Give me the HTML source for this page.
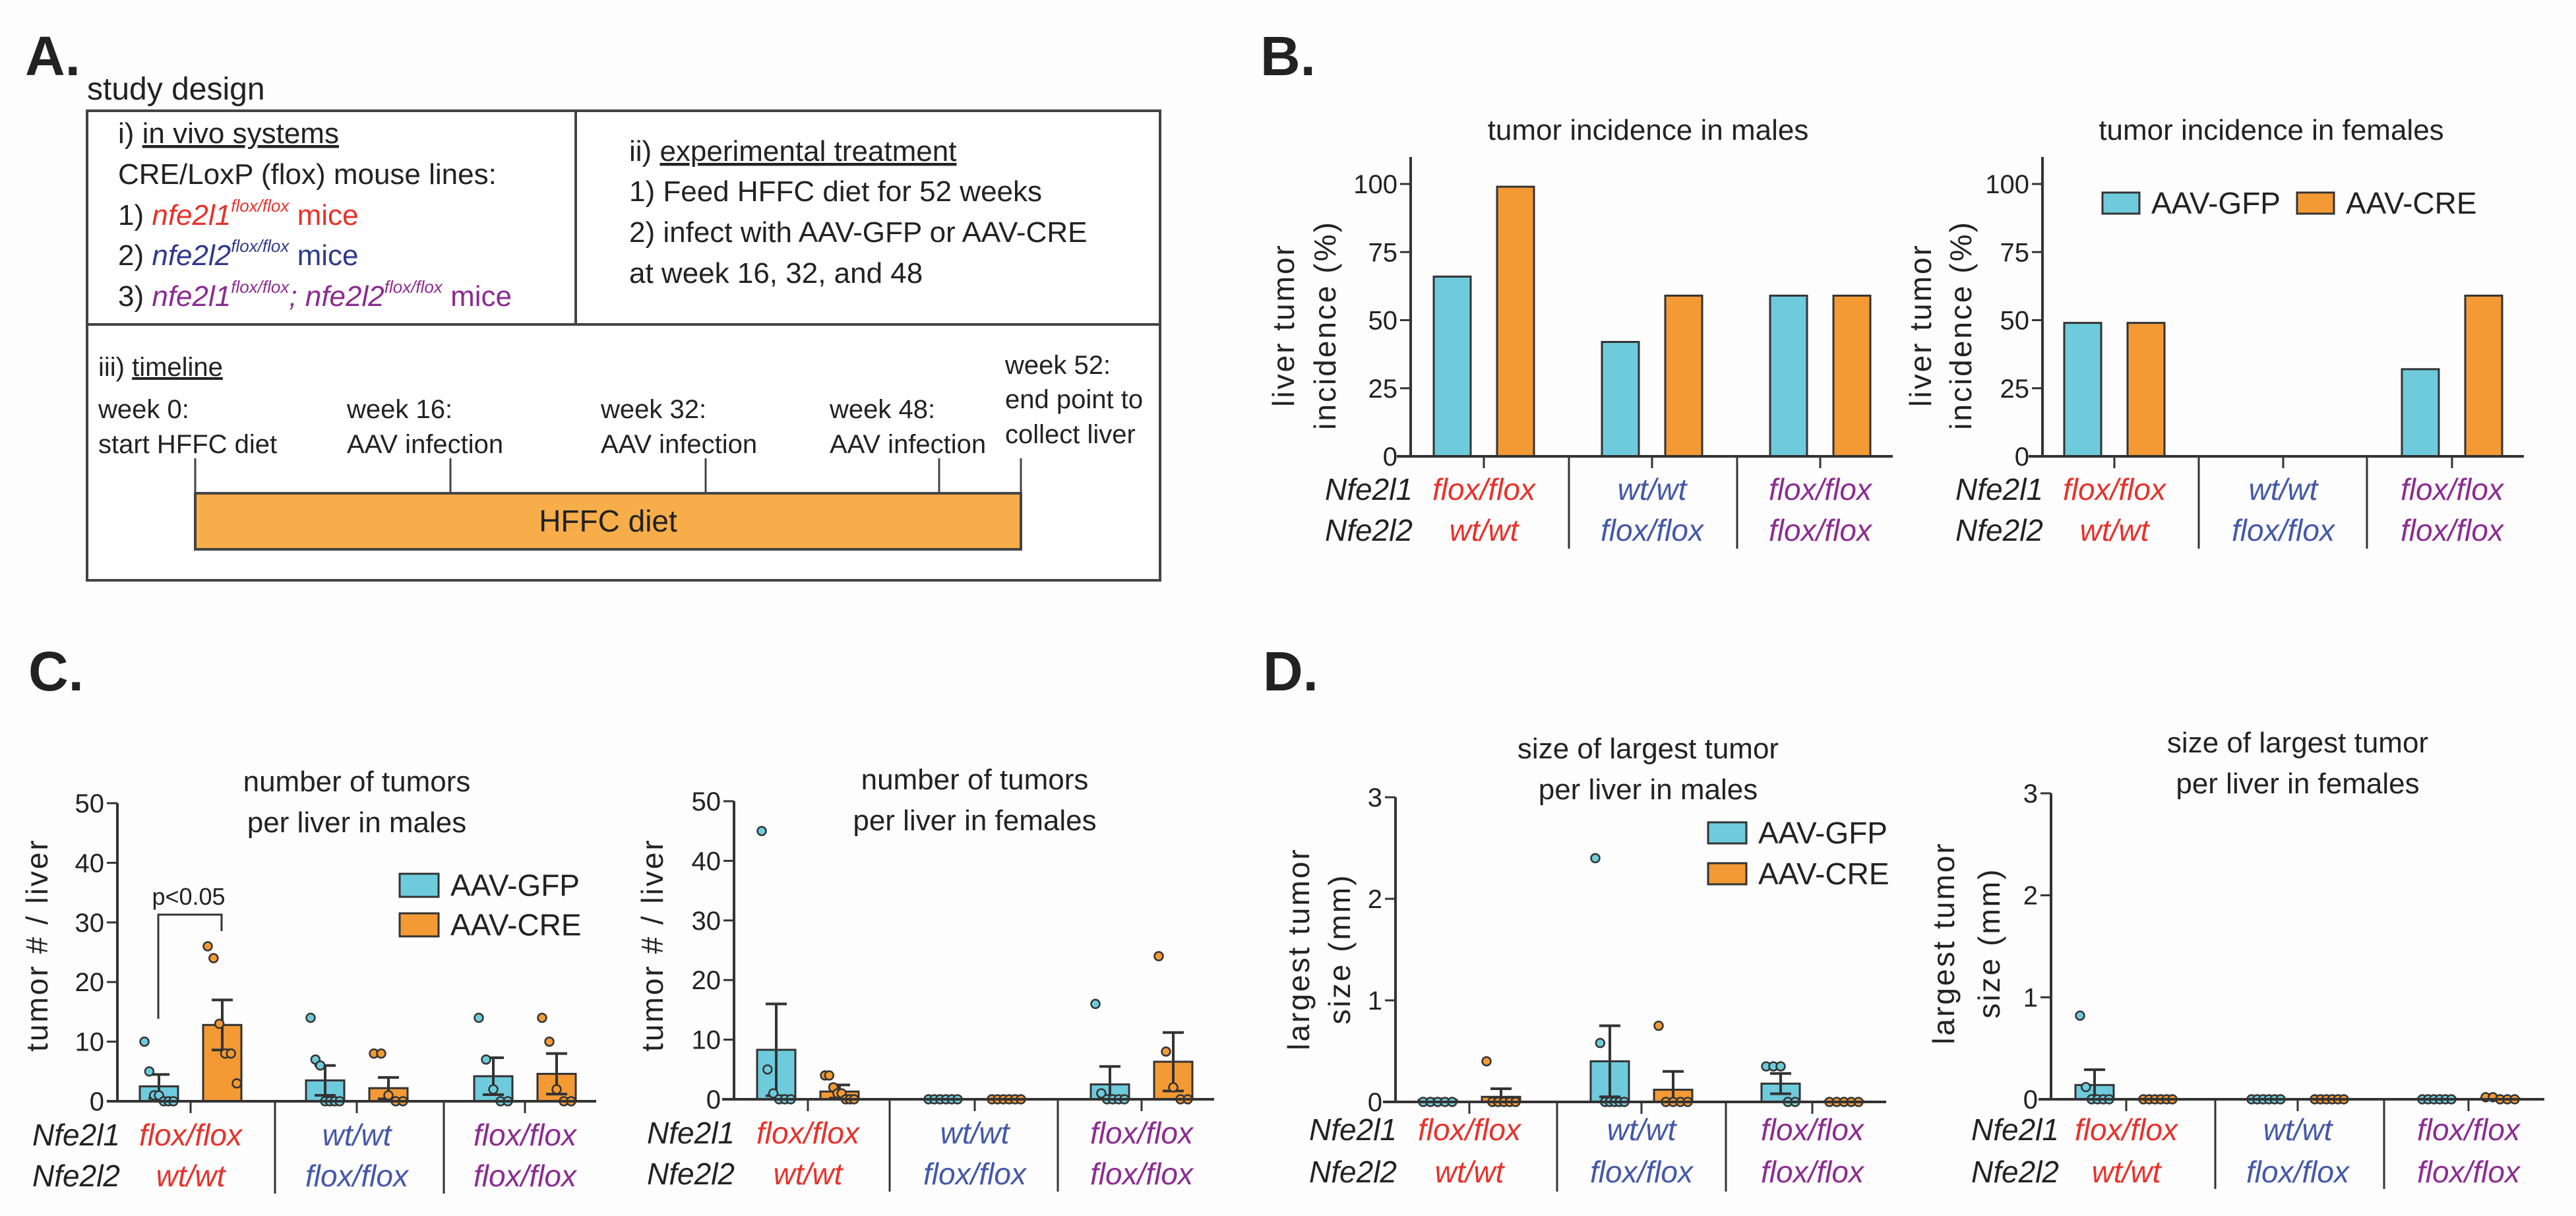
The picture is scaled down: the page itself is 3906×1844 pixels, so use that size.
<!DOCTYPE html>
<html><head><meta charset="utf-8">
<style>
html,body{margin:0;padding:0;background:#fff;}
svg{display:block;}
text{font-family:"Liberation Sans",Arial,sans-serif;fill:#222;}
</style></head>
<body>
<svg id="fig" width="3906" height="1844" viewBox="0 0 3906 1844" xmlns="http://www.w3.org/2000/svg">
<rect x="0" y="0" width="3906" height="1844" fill="#fdfdfd"/>

<!-- Panel A -->
<g>
<text x="38" y="114" font-size="84" font-weight="bold">A.</text>
<text x="132" y="151" font-size="48">study design</text>
<rect x="132" y="168" width="1627" height="712" fill="#fff" stroke="#444" stroke-width="4"/>
<line x1="132" y1="492" x2="1759" y2="492" stroke="#444" stroke-width="4"/>
<line x1="873" y1="168" x2="873" y2="492" stroke="#444" stroke-width="4"/>
<g font-size="44">
<text x="179" y="217">i) <tspan text-decoration="underline">in vivo systems</tspan></text>
<text x="179" y="279">CRE/LoxP (flox) mouse lines:</text>
<text x="179" y="341">1) <tspan fill="#e8312a" font-style="italic">nfe2l1</tspan><tspan fill="#e8312a" font-style="italic" font-size="26" dy="-20">flox/flox</tspan><tspan fill="#e8312a" dy="20"> mice</tspan></text>
<text x="179" y="402">2) <tspan fill="#2e3a8c" font-style="italic">nfe2l2</tspan><tspan fill="#2e3a8c" font-style="italic" font-size="26" dy="-20">flox/flox</tspan><tspan fill="#2e3a8c" dy="20"> mice</tspan></text>
<text x="179" y="464">3) <tspan fill="#8b2c91" font-style="italic">nfe2l1</tspan><tspan fill="#8b2c91" font-style="italic" font-size="26" dy="-20">flox/flox</tspan><tspan fill="#8b2c91" font-style="italic" dy="20">; nfe2l2</tspan><tspan fill="#8b2c91" font-style="italic" font-size="26" dy="-20">flox/flox</tspan><tspan fill="#8b2c91" dy="20"> mice</tspan></text>
<text x="954" y="244">ii) <tspan text-decoration="underline">experimental treatment</tspan></text>
<text x="954" y="305">1) Feed HFFC diet for 52 weeks</text>
<text x="954" y="367">2) infect with AAV-GFP or AAV-CRE</text>
<text x="954" y="429">at week 16, 32, and 48</text>
</g>
<g font-size="40">
<text x="149" y="570">iii) <tspan text-decoration="underline">timeline</tspan></text>
<text x="149" y="634">week 0:</text>
<text x="149" y="687">start HFFC diet</text>
<text x="526" y="634">week 16:</text>
<text x="526" y="687">AAV infection</text>
<text x="911" y="634">week 32:</text>
<text x="911" y="687">AAV infection</text>
<text x="1258" y="634">week 48:</text>
<text x="1258" y="687">AAV infection</text>
<text x="1524" y="567">week 52:</text>
<text x="1524" y="619">end point to</text>
<text x="1524" y="672">collect liver</text>
</g>
<rect x="296" y="748" width="1252" height="85" fill="#f7ae4a" stroke="#444" stroke-width="4"/>
<text x="922" y="806" font-size="46" text-anchor="middle">HFFC diet</text>
<g stroke="#444" stroke-width="3">
<line x1="296" y1="748" x2="296" y2="695"/>
<line x1="683" y1="748" x2="683" y2="695"/>
<line x1="1070" y1="748" x2="1070" y2="695"/>
<line x1="1424" y1="748" x2="1424" y2="695"/>
<line x1="1548" y1="748" x2="1548" y2="695"/>
</g>
</g>

<text x="1911" y="114" font-size="84" font-weight="bold">B.</text>
<text x="43" y="1047" font-size="84" font-weight="bold">C.</text>
<text x="1915" y="1047" font-size="84" font-weight="bold">D.</text>

<g id="charts"></g>
</svg>

<script>
// ---------- data ----------
const genotypeNfe2l1 = ['flox/flox', 'wt/wt', 'flox/flox'];
const genotypeNfe2l2 = ['wt/wt', 'flox/flox', 'flox/flox'];
const seriesNames = ['AAV-GFP', 'AAV-CRE'];

const bTicks = [0, 25, 50, 75, 100];
const bMaleGFP = [66, 42, 59];
const bMaleCRE = [99, 59, 59];
const bFemaleGFP = [49, 0, 32];
const bFemaleCRE = [49, 0, 59];

const cTicks = [0, 10, 20, 30, 40, 50];
const cMaleGFPMean = [2.5, 3.5, 4.2];
const cMaleGFPSem = [2.0, 2.5, 3.1];
const cMaleCREMean = [12.8, 2.2, 4.6];
const cMaleCRESem = [4.2, 1.8, 3.4];
const cMaleGFPPoints = [[10, 5, 1, 1, 0, 0, 0], [14, 7, 6, 0, 0, 0, 0], [14, 7, 2, 0, 0]];
const cMaleCREPoints = [[26, 24, 13, 8, 8, 3], [8, 8, 1, 0, 0], [14, 10, 2, 0, 0]];
const cFemaleGFPMean = [8.3, 0, 2.5];
const cFemaleGFPSem = [7.7, 0, 3.0];
const cFemaleCREMean = [1.3, 0, 6.3];
const cFemaleCRESem = [1.1, 0, 4.9];
const cFemaleGFPPoints = [[45, 5, 1, 0, 0, 0], [0, 0, 0, 0, 0, 0], [16, 1, 0, 0, 0, 0]];
const cFemaleCREPoints = [[4, 4, 2, 1, 1, 0, 0, 0], [0, 0, 0, 0, 0, 0], [24, 8, 2, 0, 0]];

const dTicks = [0, 1, 2, 3];
const dMaleGFPMean = [0.02, 0.40, 0.18];
const dMaleGFPSem = [0.01, 0.35, 0.10];
const dMaleCREMean = [0.05, 0.12, 0.01];
const dMaleCRESem = [0.08, 0.18, 0];
const dMaleGFPPoints = [[0, 0, 0, 0, 0], [2.4, 0.58, 0, 0, 0, 0, 0], [0.35, 0.35, 0.35, 0, 0]];
const dMaleCREPoints = [[0.4, 0, 0, 0, 0, 0], [0.75, 0, 0, 0, 0], [0, 0, 0, 0, 0]];
const dFemaleGFPMean = [0.14, 0, 0.005];
const dFemaleGFPSem = [0.15, 0, 0];
const dFemaleCREMean = [0.005, 0, 0.01];
const dFemaleCRESem = [0, 0, 0];
const dFemaleGFPPoints = [[0.82, 0.12, 0, 0, 0, 0], [0, 0, 0, 0, 0, 0], [0, 0, 0, 0, 0, 0]];
const dFemaleCREPoints = [[0, 0, 0, 0, 0, 0], [0, 0, 0, 0, 0, 0], [0.02, 0.02, 0, 0, 0]];

// ---------- drawing ----------
const NS = 'http://www.w3.org/2000/svg';
const root = document.getElementById('charts');
const GFP = '#6ecbdc', CRE = '#f39a34', INK = '#333';
const geneColors = ['#e8312a', '#4458a8', '#8b2c91'];

function mk(tag, attrs, parent) {
  const el = document.createElementNS(NS, tag);
  for (const k in attrs) el.setAttribute(k, attrs[k]);
  parent.appendChild(el);
  return el;
}

function drawChart(cfg) {
  const g = mk('g', {}, root);
  
  
  const y = v => cfg.y0 - (v / cfg.vmax) * (cfg.y0 - cfg.yTop);
  // axes
  const ya = mk('line', {x1: cfg.ax, y1: cfg.y0, x2: cfg.ax, y2: cfg.axisTop, stroke: INK, 'stroke-width': 4}, g);
  
  
  cfg.ticks.forEach(t => {
    const tl = mk('line', {x1: cfg.ax - 16, y1: y(t), x2: cfg.ax, y2: y(t), stroke: INK, 'stroke-width': 3}, g);
    
    
    const tx = mk('text', {x: cfg.ax - 20, y: y(t) + 14, 'font-size': 40, 'text-anchor': 'end'}, g);
    tx.textContent = t;
    
    
  });
  // title
  cfg.title.forEach((line, i) => {
    const tt = mk('text', {x: cfg.titleX, y: cfg.titleY + i * 62 + 15, 'font-size': 44, 'text-anchor': 'middle'}, g);
    tt.textContent = line;
    
    
  });
  // y title
  cfg.yTitle.forEach((line, i) => {
    const xx = cfg.yTitleX[i];
    const yt = mk('text', {x: xx, y: cfg.yTitleY, 'font-size': 46, 'text-anchor': 'middle', 'letter-spacing': 3,
      transform: 'rotate(-90 ' + xx + ' ' + cfg.yTitleY + ')', dy: 16}, g);
    yt.textContent = line;
    
    
  });
  // bars
  const series = [
    {vals: cfg.gfp, sem: cfg.gfpSem, pts: cfg.gfpPts, col: GFP, off: -48, nm: 'gfp'},
    {vals: cfg.cre, sem: cfg.creSem, pts: cfg.crePts, col: CRE, off: 48, nm: 'cre'}
  ];
  cfg.groups.forEach((gc, gi) => {
    series.forEach(s => {
      const cx = gc + s.off, v = s.vals[gi];
      if (v > 0) {
        const b = mk('rect', {x: cx - cfg.bw / 2, y: y(v), width: cfg.bw, height: cfg.y0 - y(v), fill: s.col, stroke: INK, 'stroke-width': 3}, g);
        
        
      }
      if (s.sem && s.sem[gi] > 0) {
        const hi = v + s.sem[gi], lo = Math.max(0, v - s.sem[gi]);
        const e = mk('path', {d: 'M' + cx + ' ' + y(lo) + 'V' + y(hi) + 'M' + (cx - 16) + ' ' + y(hi) + 'H' + (cx + 16) +
          (lo > 0 ? 'M' + (cx - 16) + ' ' + y(lo) + 'H' + (cx + 16) : ''), stroke: INK, 'stroke-width': 4, fill: 'none'}, g);
        
        
      }
      if (s.pts) {
        const n = s.pts[gi].length;
        const sp = Math.min(11, 44 / Math.max(1, n - 1));
        s.pts[gi].forEach((p, pi) => {
          const px = cx + (pi - (n - 1) / 2) * sp;
          const c = mk('circle', {cx: px, cy: y(p), r: 6.5, fill: s.col, stroke: INK, 'stroke-width': 2.5}, g);
          
          
        });
      }
    });
  });
  // x axis
  const xa = mk('line', {x1: cfg.xStart, y1: cfg.y0, x2: cfg.xEnd, y2: cfg.y0, stroke: INK, 'stroke-width': 4}, g);
  
  
  cfg.groups.forEach((gc, gi) => {
    const xt = mk('line', {x1: gc, y1: cfg.y0, x2: gc, y2: cfg.y0 + 18, stroke: INK, 'stroke-width': 3}, g);
    
    
    [genotypeNfe2l1[gi], genotypeNfe2l2[gi]].forEach((lab, li) => {
      const t = mk('text', {x: gc, y: cfg.rowY[li] + 16, 'font-size': 46, 'font-style': 'italic', 'text-anchor': 'middle', fill: geneColors[gi], style: 'fill:' + geneColors[gi]}, g);
      t.textContent = lab;
      
      
    });
  });
  cfg.seps.forEach(sx => {
    const sl = mk('line', {x1: sx, y1: cfg.y0, x2: sx, y2: cfg.sepBottom, stroke: INK, 'stroke-width': 3}, g);
    
    
  });
  ['Nfe2l1', 'Nfe2l2'].forEach((lab, li) => {
    const t = mk('text', {x: cfg.rowX, y: cfg.rowY[li] + 16, 'font-size': 46, 'font-style': 'italic', 'text-anchor': 'end'}, g);
    t.textContent = lab;
    
    
  });
  if (cfg.legend) {
    const L = cfg.legend;
    [[GFP, seriesNames[0]], [CRE, seriesNames[1]]].forEach((it, i) => {
      const bx = L.x + i * L.dx, by = L.y + i * L.dy;
      const r = mk('rect', {x: bx, y: by, width: L.w, height: L.h, fill: it[0], stroke: INK, 'stroke-width': 3}, g);
      
      
      const t = mk('text', {x: bx + L.w + 18, y: by + L.h / 2 + 16, 'font-size': 46}, g);
      t.textContent = it[1];
      
      
    });
  }
  return {g, y};
}

drawChart({name: 'chart-b-males', ax: 2139, y0: 692, yTop: 279, vmax: 100, axisTop: 238, ticks: bTicks,
  xStart: 2118, xEnd: 2870, groups: [2250, 2505, 2760], seps: [2379, 2634], sepBottom: 832, bw: 56,
  gfp: bMaleGFP, cre: bMaleCRE, title: ['tumor incidence in males'], titleX: 2499, titleY: 197,
  yTitle: ['liver tumor', 'incidence (%)'], yTitleX: [1946, 2009], yTitleY: 493, rowX: 2142, rowY: [742, 804]});
drawChart({name: 'chart-b-females', ax: 3097, y0: 692, yTop: 279, vmax: 100, axisTop: 238, ticks: bTicks,
  xStart: 3076, xEnd: 3827, groups: [3206, 3462, 3718], seps: [3334, 3589], sepBottom: 832, bw: 56,
  gfp: bFemaleGFP, cre: bFemaleCRE, title: ['tumor incidence in females'], titleX: 3444, titleY: 197,
  yTitle: ['liver tumor', 'incidence (%)'], yTitleX: [2912, 2973], yTitleY: 493, rowX: 3098, rowY: [742, 804],
  legend: {x: 3188, y: 292, w: 56, h: 32, dx: 295, dy: 0}});
const cm = drawChart({name: 'chart-c-males', ax: 178, y0: 1670, yTop: 1218, vmax: 50, axisTop: 1218, ticks: cTicks,
  xStart: 162, xEnd: 904, groups: [289, 541, 796], seps: [417, 673], sepBottom: 1810, bw: 58,
  gfp: cMaleGFPMean, gfpSem: cMaleGFPSem, gfpPts: cMaleGFPPoints, cre: cMaleCREMean, creSem: cMaleCRESem, crePts: cMaleCREPoints,
  title: ['number of tumors', 'per liver in males'], titleX: 541, titleY: 1185,
  yTitle: ['tumor # / liver'], yTitleX: [56], yTitleY: 1433, rowX: 182, rowY: [1721, 1783],
  legend: {x: 606, y: 1325, w: 59, h: 35, dx: 0, dy: 60}});
drawChart({name: 'chart-c-females', ax: 1113, y0: 1667, yTop: 1215, vmax: 50, axisTop: 1215, ticks: cTicks,
  xStart: 1095, xEnd: 1841, groups: [1225, 1478, 1731], seps: [1349, 1604], sepBottom: 1807, bw: 58,
  gfp: cFemaleGFPMean, gfpSem: cFemaleGFPSem, gfpPts: cFemaleGFPPoints, cre: cFemaleCREMean, creSem: cFemaleCRESem, crePts: cFemaleCREPoints,
  title: ['number of tumors', 'per liver in females'], titleX: 1478, titleY: 1182,
  yTitle: ['tumor # / liver'], yTitleX: [989], yTitleY: 1433, rowX: 1114, rowY: [1718, 1780]});
drawChart({name: 'chart-d-males', ax: 2116, y0: 1671, yTop: 1209, vmax: 3, axisTop: 1209, ticks: dTicks,
  xStart: 2097, xEnd: 2860, groups: [2228, 2489, 2748], seps: [2361, 2617], sepBottom: 1807, bw: 58,
  gfp: dMaleGFPMean, gfpSem: dMaleGFPSem, gfpPts: dMaleGFPPoints, cre: dMaleCREMean, creSem: dMaleCRESem, crePts: dMaleCREPoints,
  title: ['size of largest tumor', 'per liver in males'], titleX: 2499, titleY: 1135,
  yTitle: ['largest tumor', 'size (mm)'], yTitleX: [1969, 2031], yTitleY: 1439, rowX: 2118, rowY: [1713, 1777],
  legend: {x: 2590, y: 1247, w: 58, h: 32, dx: 0, dy: 62}});
drawChart({name: 'chart-d-females', ax: 3110, y0: 1667, yTop: 1203, vmax: 3, axisTop: 1203, ticks: dTicks,
  xStart: 3091, xEnd: 3858, groups: [3224, 3484, 3743], seps: [3359, 3615], sepBottom: 1803, bw: 58,
  gfp: dFemaleGFPMean, gfpSem: dFemaleGFPSem, gfpPts: dFemaleGFPPoints, cre: dFemaleCREMean, creSem: dFemaleCRESem, crePts: dFemaleCREPoints,
  title: ['size of largest tumor', 'per liver in females'], titleX: 3484, titleY: 1126,
  yTitle: ['largest tumor', 'size (mm)'], yTitleX: [2947, 3016], yTitleY: 1430, rowX: 3122, rowY: [1713, 1777]});

// significance bracket (C males)
const br = mk('path', {d: 'M240 1545V1387H336V1412', stroke: INK, 'stroke-width': 3, fill: 'none'}, root);


const pv = mk('text', {x: 286, y: 1372, 'font-size': 36, 'text-anchor': 'middle'}, root);
pv.textContent = 'p<0.05';


</script>
</body></html>
